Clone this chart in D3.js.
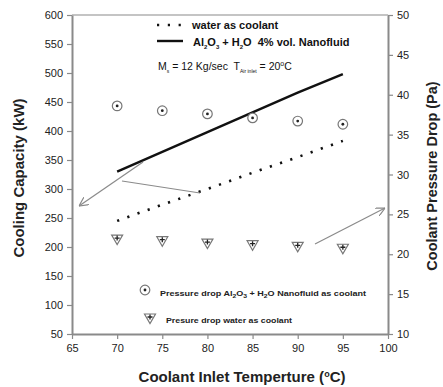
<!DOCTYPE html>
<html>
<head>
<meta charset="utf-8">
<script src="https://cdn.jsdelivr.net/npm/d3@7"></script>
<style>
  body { margin: 0; background: #fff; }
  svg { font-family: Arial, "Liberation Sans", sans-serif; }
</style>
</head>
<body>
<svg id="chart" width="443" height="387"></svg>
<script>
// Coolant inlet temperature (°C)
const temps = [70, 75, 80, 85, 90, 95];
// Cooling capacity (kW)
const capWater = [245, 273, 300, 328, 355, 383];
const capNano = [330, 364, 398, 432, 466, 498];
// Coolant pressure drop (Pa)
const dpNano = [38.6, 38.0, 37.6, 37.1, 36.7, 36.3];
const dpWater = [21.9, 21.7, 21.4, 21.2, 21.0, 20.75];
// Axis ticks
const xTicks = [65, 70, 75, 80, 85, 90, 95, 100];
const yLeftTicks = [50, 100, 150, 200, 250, 300, 350, 400, 450, 500, 550, 600];
const yRightTicks = [10, 15, 20, 25, 30, 35, 40, 45, 50];

const svg = d3.select("#chart");
const L = 72, R = 388, T = 15, B = 334;
const axisCol = "#8a8a8a";

const x = d3.scaleLinear().domain([65, 100]).range([L, R]);
const yL = d3.scaleLinear().domain([50, 600]).range([B, T]);
const yR = d3.scaleLinear().domain([10, 50]).range([B, T]);

// frame top edge
svg.append("line").attr("x1", L).attr("x2", R).attr("y1", T).attr("y2", T)
  .attr("stroke", "#b0b0b0").attr("stroke-width", 1.5);

function styleAxis(g) {
  g.selectAll(".domain").attr("stroke", axisCol).attr("stroke-width", 2);
  g.selectAll(".tick line").attr("stroke", axisCol).attr("stroke-width", 1.2);
  g.selectAll(".tick text").attr("fill", "#222").attr("font-size", 11)
    .attr("font-family", "Arial, 'Liberation Sans', sans-serif");
}

svg.append("g").attr("transform", `translate(0,${B})`)
  .call(d3.axisBottom(x).tickValues(xTicks).tickSize(5).tickSizeOuter(0).tickPadding(5))
  .call(styleAxis);
svg.append("g").attr("transform", `translate(${L},0)`)
  .call(d3.axisLeft(yL).tickValues(yLeftTicks).tickSize(5).tickSizeOuter(0).tickPadding(4))
  .call(styleAxis);
svg.append("g").attr("transform", `translate(${R},0)`)
  .call(d3.axisRight(yR).tickValues(yRightTicks).tickSize(5).tickSizeOuter(0).tickPadding(4))
  .call(styleAxis);

// axis titles
svg.append("text").attr("x", 242).attr("y", 382).attr("text-anchor", "middle")
  .attr("font-size", 15).attr("font-weight", "bold").attr("fill", "#222")
  .html('Coolant Inlet Temperture (<tspan dy="-5" font-size="9">o</tspan><tspan dy="5">C)</tspan>');
svg.append("text").attr("transform", "translate(24,178) rotate(-90)").attr("text-anchor", "middle")
  .attr("font-size", 15).attr("font-weight", "bold").attr("fill", "#222")
  .text("Cooling Capacity (kW)");
svg.append("text").attr("transform", "translate(437,176) rotate(-90)").attr("text-anchor", "middle")
  .attr("font-size", 14.5).attr("font-weight", "bold").attr("fill", "#222")
  .text("Coolant Pressure Drop (Pa)");

// cooling capacity lines
const lineL = d3.line().x((d, i) => x(temps[i])).y(d => yL(d));
svg.append("path").datum(capNano).attr("d", lineL)
  .attr("fill", "none").attr("stroke", "#111").attr("stroke-width", 2.4);
svg.append("path").datum(capWater).attr("d", lineL)
  .attr("fill", "none").attr("stroke", "#111").attr("stroke-width", 2.6)
  .attr("stroke-dasharray", "2.2 8.6").attr("stroke-linecap", "butt");

// pressure-drop markers
function circleMark(g, cx, cy) {
  g.append("circle").attr("cx", cx).attr("cy", cy).attr("r", 4.8)
    .attr("fill", "#fff").attr("stroke", "#777").attr("stroke-width", 1.2);
  g.append("circle").attr("cx", cx).attr("cy", cy).attr("r", 1.4).attr("fill", "#222");
}
function triMark(g, cx, cy) {
  g.append("path").attr("d", `M${cx - 5.5},${cy - 4} L${cx + 5.5},${cy - 4} L${cx},${cy + 5.5} Z`)
    .attr("fill", "#fff").attr("stroke", "#777").attr("stroke-width", 1.2);
  g.append("path").attr("d", `M${cx - 2.5},${cy - 1} H${cx + 2.5} M${cx},${cy - 3.5} V${cy + 1.5}`)
    .attr("stroke", "#222").attr("stroke-width", 1.3);
}
const marks = svg.append("g");
temps.forEach((t, i) => circleMark(marks, x(t), yR(dpNano[i])));
temps.forEach((t, i) => triMark(marks, x(t), yR(dpWater[i])));

// arrows pointing to the relevant axes
const defs = svg.append("defs");
defs.append("marker").attr("id", "arr").attr("viewBox", "0 0 10 10")
  .attr("refX", 10).attr("refY", 5).attr("markerWidth", 9).attr("markerHeight", 9)
  .attr("orient", "auto").attr("markerUnits", "userSpaceOnUse")
  .append("path").attr("d", "M0,0 L10,5 L0,10").attr("fill", "none")
  .attr("stroke", "#888").attr("stroke-width", 1.3);
const arrows = [
  { x1: 143, y1: 162, x2: 79, y2: 206, head: true },
  { x1: 122, y1: 181, x2: 200, y2: 193, head: false },
  { x1: 315, y1: 244, x2: 385, y2: 208, head: true }
];
arrows.forEach(a => {
  const l = svg.append("line").attr("x1", a.x1).attr("y1", a.y1).attr("x2", a.x2).attr("y2", a.y2)
    .attr("stroke", "#8a8a8a").attr("stroke-width", 1.2);
  if (a.head) l.attr("marker-end", "url(#arr)");
});

// top legend
const leg = svg.append("g").attr("fill", "#111");
leg.append("line").attr("x1", 157).attr("x2", 182).attr("y1", 25).attr("y2", 25)
  .attr("stroke", "#111").attr("stroke-width", 2.4).attr("stroke-dasharray", "2.2 8.6");
leg.append("text").attr("x", 192).attr("y", 29).attr("font-size", 11).attr("font-weight", "bold")
  .text("water as coolant");
leg.append("line").attr("x1", 157).attr("x2", 183).attr("y1", 41).attr("y2", 41)
  .attr("stroke", "#111").attr("stroke-width", 2.4);
leg.append("text").attr("x", 193).attr("y", 46).attr("font-size", 11).attr("font-weight", "bold")
  .attr("xml:space", "preserve")
  .html('Al<tspan dy="3" font-size="6">2</tspan><tspan dy="-3">O</tspan><tspan dy="3" font-size="6">3</tspan><tspan dy="-3"> + H</tspan><tspan dy="3" font-size="6">2</tspan><tspan dy="-3">O  4% vol. Nanofluid</tspan>');
leg.append("text").attr("x", 158).attr("y", 70).attr("font-size", 10.5)
  .attr("xml:space", "preserve")
  .html('M<tspan dy="3" font-size="5">s</tspan><tspan dy="-3"> = 12 Kg/sec  T</tspan><tspan dy="3" font-size="5">Air inlet</tspan><tspan dy="-3"> = 20</tspan><tspan dy="-4" font-size="7">o</tspan><tspan dy="4">C</tspan>');

// bottom legend for pressure-drop markers
const leg2 = svg.append("g");
circleMark(leg2, 145, 290);
leg2.append("text").attr("x", 160).attr("y", 296).attr("font-size", 8).attr("font-weight", "bold")
  .attr("fill", "#222").attr("textLength", 206).attr("lengthAdjust", "spacingAndGlyphs")
  .html('Pressure drop Al<tspan dy="2" font-size="6">2</tspan><tspan dy="-2">O</tspan><tspan dy="2" font-size="6">3</tspan><tspan dy="-2"> + H</tspan><tspan dy="2" font-size="6">2</tspan><tspan dy="-2">O Nanofluid as coolant</tspan>');
triMark(leg2, 150, 318);
leg2.append("text").attr("x", 166).attr("y", 323).attr("font-size", 8).attr("font-weight", "bold")
  .attr("fill", "#222").attr("textLength", 126).attr("lengthAdjust", "spacingAndGlyphs")
  .text("Presure drop water as coolant");
</script>
</body>
</html>
